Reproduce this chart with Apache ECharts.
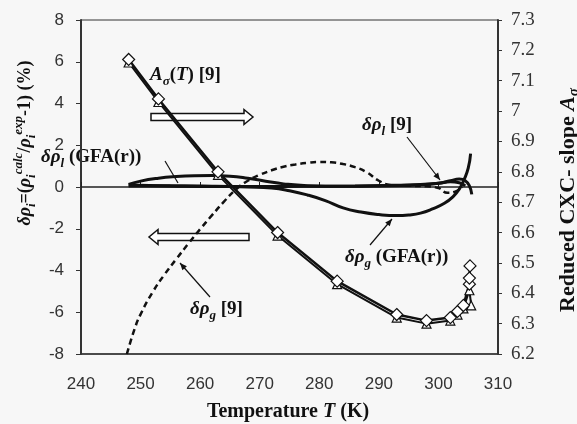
<!DOCTYPE html>
<html>
<head>
<meta charset="utf-8">
<script src="https://cdn.jsdelivr.net/npm/echarts@6/dist/echarts.min.js"></script>
</head>
<body style="margin:0;background:#f7f7f7">
<div id="main" style="width:577px;height:424px;"></div>
<script>
// A_sigma(T) [9] - diamonds and triangles (right axis)
var aDiaT = [248, 253, 263, 273, 283, 293, 298, 302, 303.2, 304.2, 305.2, 305.2, 305.3];
var aDiaV = [7.17, 7.04, 6.80, 6.60, 6.44, 6.33, 6.31, 6.32, 6.34, 6.36, 6.43, 6.45, 6.49];
var aTriT = [248, 253, 263, 273, 283, 293, 298, 302, 303.2, 304.2, 305.2, 305.5];
var aTriV = [7.16, 7.03, 6.79, 6.59, 6.43, 6.32, 6.30, 6.31, 6.33, 6.35, 6.41, 6.36];

// delta rho_g [9] (dashed)
var dgRefT = [247.7, 249, 250, 252, 254, 256, 258, 260, 262, 264, 266, 268, 270, 272, 274, 276, 278, 280, 282, 284, 286, 288, 290, 292, 295, 298, 300, 301.5, 303, 304];
var dgRefV = [-8, -6.8, -6.1, -5.05, -4.2, -3.45, -2.72, -2.02, -1.35, -0.7, -0.12, 0.3, 0.58, 0.8, 0.97, 1.08, 1.16, 1.2, 1.18, 1.1, 0.95, 0.7, 0.3, 0.1, 0.06, 0.03, -0.05, -0.28, -0.2, 0];

// delta rho_l (GFA(r))
var dlGfaT = [248, 250, 253, 256, 259, 262, 265, 268, 271, 274, 278, 284, 290, 296, 300, 302, 303.5, 304.5, 305.2, 305.6];
var dlGfaV = [0.12, 0.28, 0.42, 0.5, 0.54, 0.55, 0.52, 0.42, 0.28, 0.15, 0.06, 0.03, 0.05, 0.1, 0.18, 0.3, 0.38, 0.3, 0.05, -0.35];

// delta rho_l [9]
var dlRefT = [248, 255, 262, 270, 278, 286, 292, 297, 300, 302, 303.5, 304.5];
var dlRefV = [0.1, 0.05, 0.02, 0.02, 0.03, 0.05, 0.08, 0.12, 0.18, 0.25, 0.2, 0.05];

// delta rho_g (GFA(r))
var dgGfaT = [248, 255, 262, 268, 272, 275, 278, 281, 284, 287, 290, 293, 295, 297, 299, 301, 302.5, 303.5, 304.3, 305, 305.4];
var dgGfaV = [0.05, 0.06, 0.04, 0.0, -0.05, -0.18, -0.38, -0.65, -1.0, -1.2, -1.32, -1.37, -1.34, -1.25, -1.05, -0.78, -0.45, -0.1, 0.35, 0.9, 1.6];

function pairs(xs, ys) {
    return xs.map(function (x, i) { return [x, ys[i]]; });
}

var serif = 'Liberation Serif';
var ink = '#111';

function blockArrow(x1, x2, y) {
    var d = x2 > x1 ? 1 : -1, hl = 9, sh = 3.5, hh = 7.5;
    return {
        type: 'polygon',
        shape: { points: [[x1, y - sh], [x2 - d * hl, y - sh], [x2 - d * hl, y - hh], [x2, y],
                          [x2 - d * hl, y + hh], [x2 - d * hl, y + sh], [x1, y + sh]] },
        style: { fill: '#fff', stroke: ink, lineWidth: 1.5 }
    };
}

function leader(x1, y1, x2, y2, head) {
    var out = [{
        type: 'line', shape: { x1: x1, y1: y1, x2: x2, y2: y2 },
        style: { stroke: ink, lineWidth: 1.2 }
    }];
    if (head) {
        var len = Math.sqrt((x2 - x1) * (x2 - x1) + (y2 - y1) * (y2 - y1));
        var ux = (x2 - x1) / len, uy = (y2 - y1) / len;
        out.push({
            type: 'polygon',
            shape: { points: [[x2, y2], [x2 - ux * 7 - uy * 3, y2 - uy * 7 + ux * 3], [x2 - ux * 7 + uy * 3, y2 - uy * 7 - ux * 3]] },
            style: { fill: ink }
        });
    }
    return out;
}

function makeRich(main, small, lh) {
    return {
        b: { fontFamily: serif, fontWeight: 'bold', fontSize: main, lineHeight: lh, fill: ink },
        bi: { fontFamily: serif, fontWeight: 'bold', fontStyle: 'italic', fontSize: main, lineHeight: lh, fill: ink },
        sub: { fontFamily: serif, fontWeight: 'bold', fontStyle: 'italic', fontSize: small, verticalAlign: 'bottom', fill: ink },
        sup: { fontFamily: serif, fontWeight: 'bold', fontStyle: 'italic', fontSize: small, verticalAlign: 'top', fill: ink }
    };
}
var rich = makeRich(19, 13, 26);
var richLeft = makeRich(18, 13, 26);
var richAxis = makeRich(20, 14, 26);

function label(x, y, text, opts) {
    opts = opts || {};
    return {
        type: 'text', x: x, y: y, rotation: opts.rotation || 0,
        style: { text: text, rich: opts.rich || rich, fontFamily: serif, fontSize: 16, fontWeight: 'bold', fill: ink,
                 align: opts.align || 'left', verticalAlign: 'middle' }
    };
}

var graphics = [
    blockArrow(151, 253, 117),
    blockArrow(249, 149, 237),
    label(150, 75, '{bi|A}{sub|σ}{b|(}{bi|T}{b|) [9]}'),
    label(41, 157, '{bi|δρ}{sub|l}{b| (GFA(r))}'),
    label(362, 125, '{bi|δρ}{sub|l}{b| [9]}'),
    label(345, 257, '{bi|δρ}{sub|g}{b| (GFA(r))}'),
    label(190, 309, '{bi|δρ}{sub|g}{b| [9]}'),
    label(25, 143, '{bi|δρ}{sub|i}{b|=(}{bi|ρ}{sub|i}{sup|calc}{b|/}{bi|ρ}{sub|i}{sup|exp}{b|-1) (%)}',
        { rotation: Math.PI / 2, align: 'center', rich: richLeft }),
    label(568, 200, '{b|Reduced CXC- slope }{bi|A}{sub|σ}',
        { rotation: Math.PI / 2, align: 'center', rich: makeRich(22, 15, 28) }),
    label(288, 412, '{b|Temperature }{bi|T}{b| (K)}', { align: 'center', rich: richAxis })
].concat(
    leader(165, 161, 178, 183, false),
    leader(407, 137, 440, 180, true),
    leader(370, 245, 392, 219, true),
    leader(210, 297, 180, 263, true)
);

var myChart = echarts.init(document.getElementById('main'));
myChart.setOption({
    backgroundColor: '#f7f7f7',
    animation: false,
    grid: { left: 81, right: 79, top: 20, bottom: 70, show: true, borderColor: '#333', borderWidth: 1 },
    xAxis: [{
        type: 'value', min: 240, max: 310, interval: 10,
        axisLine: { onZero: false, lineStyle: { color: '#333', width: 1.5 } },
        axisTick: { show: false },
        axisLabel: { fontFamily: 'Liberation Sans', fontSize: 17, color: '#333', margin: 22 },
        splitLine: { show: false }
    }, {
        type: 'value', min: 240, max: 310, interval: 10,
        axisLine: { onZero: true, onZeroAxisIndex: 0, lineStyle: { color: '#222', width: 1.5 } },
        axisTick: { show: true, length: 5, lineStyle: { color: '#222' } },
        axisLabel: { show: false },
        splitLine: { show: false }
    }],
    yAxis: [{
        type: 'value', min: -8, max: 8, interval: 2,
        axisLine: { show: true, lineStyle: { color: '#333', width: 2 } },
        axisTick: { show: true, length: 5, lineStyle: { color: '#333' } },
        axisLabel: { fontFamily: 'Liberation Sans', fontSize: 17, color: '#333', margin: 17 },
        splitLine: { show: false }
    }, {
        type: 'value', min: 6.2, max: 7.3, interval: 0.1, position: 'right',
        axisLine: { show: true, lineStyle: { color: '#333', width: 2 } },
        axisTick: { show: true, length: 4, lineStyle: { color: '#333' } },
        axisLabel: { fontFamily: serif, fontSize: 19, color: '#333', margin: 13,
            formatter: function (v) { return String(Math.round(v * 10) / 10); } },
        splitLine: { show: false }
    }],
    series: [{
        name: 'dg9', type: 'line', data: pairs(dgRefT, dgRefV), smooth: true, showSymbol: false,
        lineStyle: { color: ink, width: 2.5, type: [6, 4] }
    }, {
        name: 'dlGfa', type: 'line', data: pairs(dlGfaT, dlGfaV), smooth: true, showSymbol: false,
        lineStyle: { color: ink, width: 3 }
    }, {
        name: 'dl9', type: 'line', data: pairs(dlRefT, dlRefV), smooth: true, showSymbol: false,
        lineStyle: { color: ink, width: 3 }
    }, {
        name: 'dgGfa', type: 'line', data: pairs(dgGfaT, dgGfaV), smooth: true, showSymbol: false,
        lineStyle: { color: ink, width: 3 }
    }, {
        name: 'Atri', type: 'line', yAxisIndex: 1, data: pairs(aTriT, aTriV),
        symbol: 'triangle', symbolSize: 9, showAllSymbol: true,
        itemStyle: { color: '#fff', borderColor: ink, borderWidth: 1.2 },
        lineStyle: { color: ink, width: 2 }
    }, {
        name: 'Adia', type: 'line', yAxisIndex: 1, data: pairs(aDiaT, aDiaV),
        symbol: 'diamond', symbolSize: 12, showAllSymbol: true,
        itemStyle: { color: '#fff', borderColor: ink, borderWidth: 1.2 },
        lineStyle: { color: ink, width: 2.5 }
    }],
    graphic: graphics
});
</script>
</body>
</html>
